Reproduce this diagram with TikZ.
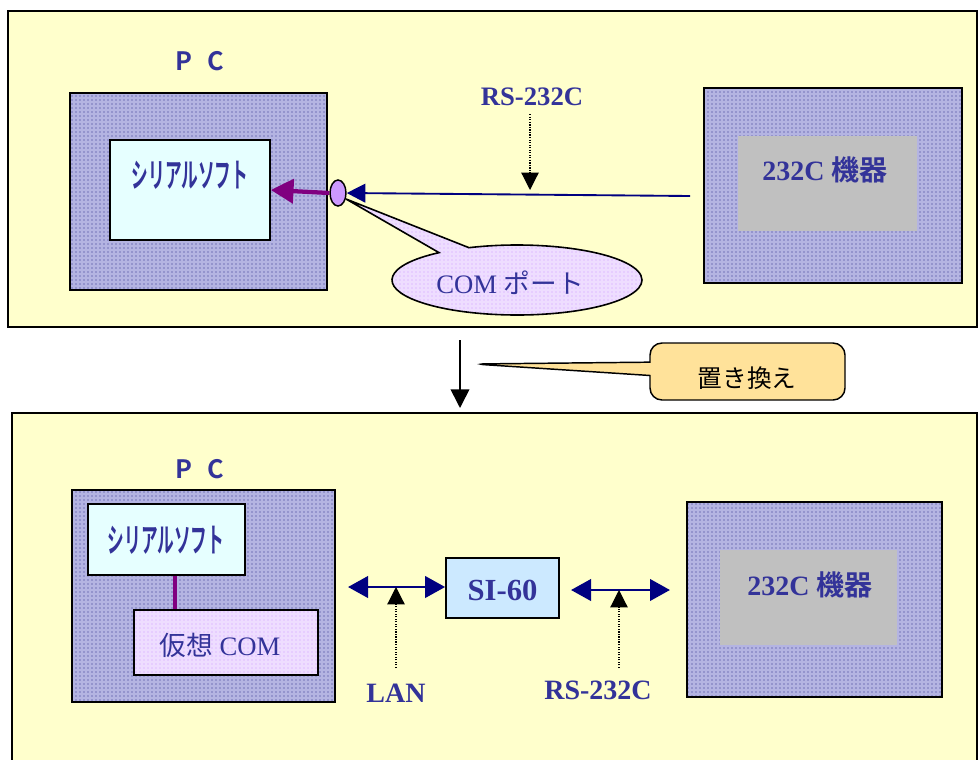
\documentclass[tikz,border=0pt]{standalone}
\usepackage{fontspec}
\setmainfont{Liberation Serif}
\newfontfamily\jp{Noto Sans CJK JP}
\newfontfamily\jpb{Noto Sans CJK JP Bold}
\usetikzlibrary{arrows.meta,patterns,shapes.geometric,shapes.callouts}
\definecolor{txt}{HTML}{333399}
\definecolor{navyc}{HTML}{000080}
\definecolor{purp}{HTML}{800080}
\definecolor{bgy}{HTML}{FFFFCC}
\definecolor{portc}{HTML}{CC99FF}
\definecolor{softc}{HTML}{E6FFFF}
\definecolor{sic}{HTML}{CCE9FF}
\definecolor{grayc}{HTML}{C0C0C0}
\definecolor{orc}{HTML}{FFE29A}
\definecolor{vcomc}{HTML}{EEDDFF}
\definecolor{dotc}{HTML}{2A2A8A}
\definecolor{dotbg}{HTML}{B4B4E2}
\newcommand{\fsz}[1]{\fontsize{#1}{#1}\selectfont}
\tikzset{
  x=0.75pt, y=-0.75pt,
  pxbox/.style 2 args={minimum width=#1*0.75pt, minimum height=#2*0.75pt, inner sep=0pt},
  panel/.style={draw=black, line width=1.2pt, fill=bgy},
  dotbox/.style={draw=black, line width=1.3pt, preaction={fill=dotbg}, pattern=dots, pattern color=dotc},
  lavbox/.style={preaction={fill=vcomc}, pattern=dots, pattern color=portc},
  softbox/.style={draw=black, line width=1.3pt, fill=softc},
  graybox/.style={fill=grayc, draw=none},
  lbl/.style={text=txt, inner sep=0pt},
  dotarrow/.style={densely dotted, line width=0.9pt, -{Triangle[length=13pt,width=13pt]}},
  dblarrow/.style={navyc, line width=2.2pt, {Triangle[length=15pt,width=16pt]}-{Triangle[length=15pt,width=16pt]}},
}
\begin{document}
\begin{tikzpicture}
\useasboundingbox (0,0) rectangle (978,760);
\fill[white] (0,0) rectangle (978,760);
% panels
\draw[panel] (8,11) rectangle (977,327);
\draw[panel] (12,413) rectangle (977,775);

% ---------- top ----------
\node[lbl, font=\jpb\fsz{19pt}] (pc1) at (200,61) {P\hspace{0.6em}C};
\node[dotbox, pxbox={257}{197}] (pcbox1) at (198.5,191.5) {};
\node[softbox, pxbox={160}{100}] (soft1) at (190,190) {};
\node[lbl, font=\jpb\fsz{25pt}] (soft1t) at (190,175) {\scalebox{0.5}[1]{シリアルソフト}};
\node[ellipse, draw=black, line width=1.1pt, fill=portc, pxbox={16}{26}] (port) at (338,193) {};

\node[dotbox, pxbox={258}{195}] (dev1) at (833,185.5) {};
\node[graybox, pxbox={179}{95}] (dev1in) at (827.5,183.5) {};
\node[lbl, font=\fsz{21pt}] (dev1t) at (825,170) {\textbf{232C} {\jpb 機器}};

\coordinate (rsend) at (690,196);
\draw[navyc, line width=1.4pt, -{Triangle[length=14pt,width=14pt]}] (rsend) -- (port.east);
\draw[purp, line width=3.2pt, -{Triangle[length=17pt,width=18pt]}] (port.west) -- (soft1.east);

\node[lbl, font=\bfseries\fsz{20pt}] (rs1) at (532,97) {RS-232C};
\coordinate (rs1tip) at (530,190);
\draw[dotarrow] (rs1.south -| rs1tip) ++(0,8) -- (rs1tip);

\node[ellipse callout, draw=black, line width=1.2pt, lavbox,
      pxbox={250}{70}, callout absolute pointer={(346,199)}, callout pointer arc=16] (comcall) at (517,280) {};
\node[lbl, font=\fsz{20pt}] (comt) at (510,283) {COM {\jp ポート}};

% ---------- middle ----------
\coordinate (mtop) at (460,340);
\coordinate (mbot) at (460,408);
\draw[line width=1.2pt, -{Triangle[length=14pt,width=14pt]}] (mtop) -- (mbot);
\node[rectangle callout, rounded corners=9pt, draw=black, line width=1.1pt, fill=orc, pxbox={195}{57},
      callout absolute pointer={(474,364)}, callout pointer width=10pt] (repl) at (747.5,371.5) {};
\node[inner sep=0pt, font=\jp\fsz{18.5pt}] (replt) at (747,378) {置き換え};

% ---------- bottom ----------
\node[lbl, font=\jpb\fsz{19pt}] (pc2) at (200,469) {P\hspace{0.6em}C};
\node[dotbox, pxbox={263}{212}] (pcbox2) at (203.5,596) {};
\node[softbox, pxbox={157}{71}] (soft2) at (166.5,539.5) {};
\node[lbl, font=\jpb\fsz{25pt}] (soft2t) at (166,540) {\scalebox{0.5}[1]{シリアルソフト}};
\node[draw=black, line width=1.3pt, lavbox, pxbox={184}{65}] (vcom) at (226,642.5) {};
\node[lbl, font=\fsz{20pt}] (vcomt) at (220,645) {{\jp 仮想} COM};
\draw[purp, line width=3.2pt] (soft2.south -| 175,0) -- (vcom.north -| 175,0);

\node[draw=black, line width=1.3pt, fill=sic, pxbox={113}{60}] (si) at (502.5,588) {};
\node[lbl, font=\bfseries\fsz{23pt}] (sit) at (502.5,590) {SI-60};

\node[dotbox, pxbox={255}{195}] (dev2) at (814.5,599.5) {};
\node[graybox, pxbox={177}{95}] (dev2in) at (808.5,597.5) {};
\node[lbl, font=\fsz{21pt}] (dev2t) at (810,585) {\textbf{232C} {\jpb 機器}};

\coordinate (lanL) at (348,587);
\draw[dblarrow] (lanL) -- (lanL -| si.west);
\coordinate (rsR) at (670,590);
\coordinate (rsL) at (571,590);
\draw[dblarrow] (rsL) -- (rsR);

\node[lbl, font=\bfseries\fsz{21pt}] (lan) at (396,693) {LAN};
\node[lbl, font=\bfseries\fsz{21pt}] (rs2) at (598,690) {RS-232C};
\coordinate (lantip) at (396,587);
\coordinate (rs2tip) at (619,590);
\draw[dotarrow] (396,668) -- (lantip);
\draw[dotarrow] (619,668) -- (rs2tip);
\end{tikzpicture}
\end{document}
